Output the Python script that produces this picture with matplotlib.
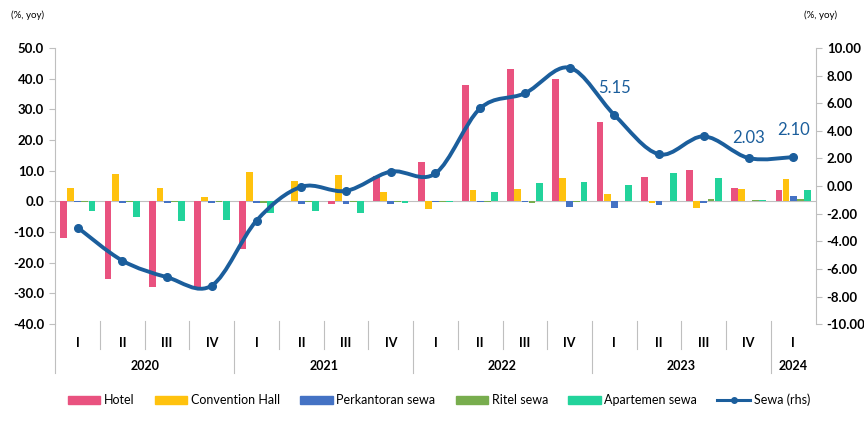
import matplotlib
matplotlib.use("Agg")
import matplotlib.pyplot as plt
import matplotlib.transforms as mtransforms
from matplotlib.path import Path
from matplotlib.patches import PathPatch
from matplotlib.lines import Line2D
from matplotlib.patches import Patch
import numpy as np

plt.rcParams['font.family'] = ['Lato', 'DejaVu Sans']

# quarterly growth, % yoy
quarters = ['I', 'II', 'III', 'IV'] * 4 + ['I']
years = ['2020', '2021', '2022', '2023', '2024']
quarters_per_year = [4, 4, 4, 4, 1]

hotel = [-12.0, -25.2, -27.8, -28.5, -15.5, 0.3, -0.7, 8.2, 13.0, 38.0,
         43.0, 40.0, 26.0, 8.0, 10.2, 4.3, 3.8]
convention = [4.5, 9.1, 4.5, 1.6, 9.7, 6.7, 8.7, 3.0, -2.6, 3.7,
              4.2, 7.5, 2.4, -0.6, -2.2, 4.2, 7.3]
perkantoran = [-0.3, -0.4, -0.4, -0.4, -0.4, -0.9, -0.9, -0.8, -0.3, -0.3,
               -0.2, -1.7, -2.0, -1.2, -0.4, 0.3, 1.8]
ritel = [-0.3, -0.3, -0.3, -0.3, -0.5, -0.3, -0.3, -0.2, -0.3, -0.2,
         -0.6, -0.2, 0.3, 0.3, 0.8, 0.4, 0.9]
apartemen = [-3.2, -5.1, -6.4, -6.1, -3.7, -3.2, -3.9, -0.5, -0.3, 3.0,
             6.1, 6.3, 5.2, 9.2, 7.6, 0.5, 3.8]
sewa = [-3.0, -5.4, -6.6, -7.2, -2.5, -0.05, -0.35, 1.05, 0.92, 5.63,
        6.72, 8.57, 5.15, 2.3, 3.6, 2.03, 2.10]
labelled = {12: '5.15', 15: '2.03', 16: '2.10'}

series = [
    ('Hotel', hotel, '#E9527F'),
    ('Convention Hall', convention, '#FFC20E'),
    ('Perkantoran sewa', perkantoran, '#4472C4'),
    ('Ritel sewa', ritel, '#78AD4E'),
    ('Apartemen sewa', apartemen, '#22D39B'),
]
line_color = '#1B5E9C'
grey = '#BFBFBF'

fig = plt.figure(figsize=(8.64, 4.21), dpi=100)
ax = fig.add_axes([0.064, 0.230, 0.880, 0.656])
ax2 = ax.twinx()

x = np.arange(len(quarters))
width = 0.16
for i, (name, vals, col) in enumerate(series):
    ax.bar(x + (i - 2) * width, vals, width * 0.95, color=col, label=name, zorder=2)

ax.axhline(0, color=grey, lw=0.8, zorder=1)
ax.set_xlim(-0.5, len(quarters) - 0.5)
ax.set_ylim(-40, 50)
ax.set_yticks(np.arange(-40, 51, 10))
ax.set_yticklabels([f'{v:.1f}' for v in np.arange(-40, 51, 10)])
ax2.set_ylim(-10, 10)
ax2.set_yticks(np.arange(-10, 11, 2))
ax2.set_yticklabels([f'{v:.2f}' for v in np.arange(-10, 11, 2)])

# smooth curve for the rhs series (cubic Bezier through each point)
pts = np.column_stack([x, sewa]).astype(float)
verts = [pts[0]]
codes = [Path.MOVETO]
n = len(pts)
for i in range(n - 1):
    p0 = pts[max(i - 1, 0)]
    p1 = pts[i]
    p2 = pts[i + 1]
    p3 = pts[min(i + 2, n - 1)]
    c1 = p1 + (p2 - p0) / 6
    c2 = p2 - (p3 - p1) / 6
    verts += [c1, c2, p2]
    codes += [Path.CURVE4] * 3
ax2.add_patch(PathPatch(Path(verts, codes), fill=False, ec=line_color,
                        lw=2.8, capstyle='round', zorder=3))
ax2.plot(x, sewa, 'o', color=line_color, ms=5.5, zorder=4)

for idx, txt in labelled.items():
    dy = 9 if idx == 15 else 14
    ax2.annotate(txt, (x[idx], sewa[idx]), xytext=(0, dy), textcoords='offset points',
                 ha='center', va='bottom', fontsize=12, color=line_color)

for a in (ax, ax2):
    for s in ('top', 'bottom', 'left', 'right'):
        a.spines[s].set_visible(False)
ax.spines['left'].set_visible(True)
ax.spines['left'].set_color(grey)
ax2.spines['right'].set_visible(True)
ax2.spines['right'].set_color(grey)
ax.tick_params(axis='y', length=4, color=grey, labelsize=9.5, pad=4)
ax2.tick_params(axis='y', length=4, color=grey, labelsize=9.5, pad=4)
for lab in ax.get_yticklabels() + ax2.get_yticklabels():
    lab.set_fontweight('bold')

# category axis: quarters, years and separators
ax.set_xticks(x)
ax.set_xticklabels(quarters, fontsize=9, fontweight='bold')
ax.tick_params(axis='x', length=0, pad=9)
trans = mtransforms.blended_transform_factory(ax.transData, ax.transAxes)
start = 0
ax.plot([-0.5, -0.5], [0, -0.175], color=grey, lw=0.8, transform=trans, clip_on=False)
for yr, cnt in zip(years, quarters_per_year):
    end = start + cnt
    ax.text((start + end - 1) / 2, -0.15, yr, transform=trans, ha='center', va='center',
            fontsize=9, fontweight='bold')
    for b in range(start + 1, end):
        ax.plot([b - 0.5, b - 0.5], [0.01, -0.09], color=grey, lw=0.8,
                transform=trans, clip_on=False)
    if end < len(quarters):
        ax.plot([end - 0.5, end - 0.5], [0.01, -0.175], color=grey, lw=0.8,
                transform=trans, clip_on=False)
    start = end

fig.text(0.013, 0.965, '(%, yoy)', fontsize=7, ha='left', va='center')
fig.text(0.93, 0.965, '(%, yoy)', fontsize=7, ha='left', va='center')

handles = [Patch(color=col, label=name) for name, _, col in series]
handles.append(Line2D([], [], color=line_color, lw=2.2, marker='o', ms=4, label='Sewa (rhs)'))
fig.legend(handles=handles, loc='center', bbox_to_anchor=(0.508, 0.05), ncol=6,
           frameon=False, fontsize=9, handlelength=2.6, handleheight=0.55,
           columnspacing=1.6, handletextpad=0.3)

fig.savefig('out.png', dpi=100)
